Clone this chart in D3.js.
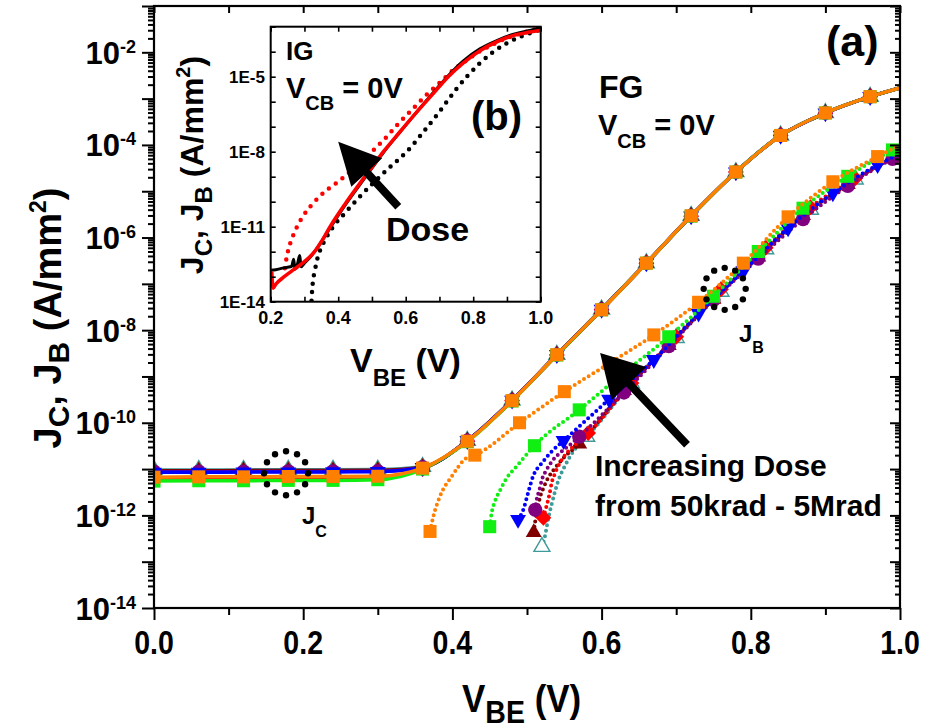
<!DOCTYPE html>
<html>
<head>
<meta charset="utf-8">
<script src="https://cdn.jsdelivr.net/npm/d3@7"></script>
<style>
  body { margin: 0; background: #fff; }
  svg { display: block; }
  text { font-family: "Liberation Sans", Arial, Helvetica, sans-serif; font-weight: bold; fill: #000; }
</style>
</head>
<body>
<svg id="chart" width="925" height="728"></svg>
<script>
// ---------------- main panel (a): FG device, J_C and J_B vs V_BE ----------------
// collector current density, sampled every 60 mV (last point = end of sweep)
const jcVbe = [0, 0.06, 0.12, 0.18, 0.24, 0.30, 0.36, 0.42, 0.48, 0.54, 0.60, 0.66, 0.72, 0.78, 0.84, 0.90, 0.96, 1.00];
const jcTeal   = [9.6e-12, 9.6e-12, 9.6e-12, 9.7e-12, 9.7e-12, 9.8e-12, 1.12e-11, 4.1e-11, 3.05e-10, 2.95e-9, 2.8e-8, 2.8e-7, 2.95e-6, 2.6e-5, 1.6e-4, 4.9e-4, 1.1e-3, 1.7e-3];
const jcMaroon = [9.2e-12, 9.2e-12, 9.3e-12, 9.3e-12, 9.3e-12, 9.4e-12, 1.1e-11, 4.1e-11, 3.05e-10, 2.95e-9, 2.8e-8, 2.8e-7, 2.95e-6, 2.6e-5, 1.6e-4, 4.9e-4, 1.1e-3, 1.7e-3];
const jcRed    = [6.4e-12, 6.4e-12, 6.5e-12, 6.5e-12, 6.6e-12, 6.7e-12, 1.0e-11, 4.0e-11, 3.0e-10, 2.9e-9, 2.75e-8, 2.8e-7, 2.9e-6, 2.6e-5, 1.6e-4, 4.85e-4, 1.1e-3, 1.7e-3];
const jcPurple = [8.8e-12, 8.8e-12, 8.8e-12, 8.9e-12, 8.9e-12, 9.0e-12, 1.1e-11, 4.1e-11, 3.05e-10, 2.95e-9, 2.8e-8, 2.8e-7, 2.95e-6, 2.6e-5, 1.6e-4, 4.9e-4, 1.1e-3, 1.7e-3];
const jcBlue   = [8.5e-12, 8.5e-12, 8.6e-12, 8.6e-12, 8.7e-12, 8.8e-12, 1.08e-11, 4.1e-11, 3.05e-10, 2.95e-9, 2.8e-8, 2.8e-7, 2.9e-6, 2.6e-5, 1.6e-4, 4.85e-4, 1.1e-3, 1.7e-3];
const jcGreen  = [5.5e-12, 5.6e-12, 5.6e-12, 5.7e-12, 5.7e-12, 5.9e-12, 1.0e-11, 3.9e-11, 2.95e-10, 2.9e-9, 2.75e-8, 2.8e-7, 2.9e-6, 2.6e-5, 1.6e-4, 4.9e-4, 1.1e-3, 1.7e-3];
const jcOrange = [6.7e-12, 6.8e-12, 6.8e-12, 6.9e-12, 6.9e-12, 7.0e-12, 1.05e-11, 4.0e-11, 3.0e-10, 2.95e-9, 2.75e-8, 2.8e-7, 2.95e-6, 2.6e-5, 1.6e-4, 4.9e-4, 1.1e-3, 1.7e-3];

// base current density: [V_BE, J_B] points along each dotted trace
const jbTeal   = [[0.52, 2.1e-13], [0.524, 3.5e-13], [0.527, 6.3e-13], [0.53, 1.1e-12], [0.534, 2.0e-12], [0.538, 3.5e-12], [0.543, 6.3e-12], [0.55, 1.1e-11], [0.558, 1.9e-11], [0.568, 3.2e-11], [0.58, 5.0e-11], [0.64, 7.1e-10], [0.70, 6.8e-9], [0.76, 6.8e-8], [0.82, 5.6e-7], [0.88, 4.0e-6], [0.94, 1.8e-5], [1.0, 6.3e-5]];
const jbMaroon = [[0.509, 4.3e-13], [0.511, 7.4e-13], [0.514, 1.32e-12], [0.517, 2.3e-12], [0.522, 3.9e-12], [0.5285, 6.5e-12], [0.5375, 1.05e-11], [0.549, 1.74e-11], [0.57, 3.5e-11], [0.63, 5.0e-10], [0.69, 4.7e-9], [0.75, 4.7e-8], [0.81, 3.8e-7], [0.87, 3.0e-6], [0.93, 1.4e-5], [0.99, 5.2e-5], [1.0, 6.2e-5]];
const jbRed    = [[0.522, 8.9e-13], [0.526, 1.55e-12], [0.53, 2.8e-12], [0.533, 5.0e-12], [0.5375, 8.1e-12], [0.544, 1.35e-11], [0.553, 2.2e-11], [0.564, 3.3e-11], [0.582, 6.0e-11], [0.64, 7.2e-10], [0.70, 7.2e-9], [0.76, 7.6e-8], [0.82, 6.0e-7], [0.88, 4.5e-6], [0.94, 1.9e-5], [1.0, 6.3e-5]];
const jbPurple = [[0.511, 1.32e-12], [0.513, 2.2e-12], [0.5165, 3.5e-12], [0.52, 5.9e-12], [0.526, 9.5e-12], [0.535, 1.58e-11], [0.5465, 2.4e-11], [0.56, 3.6e-11], [0.57, 5.0e-11], [0.63, 4.5e-10], [0.69, 4.5e-9], [0.75, 4.5e-8], [0.81, 3.5e-7], [0.87, 2.5e-6], [0.93, 1.3e-5], [0.99, 5.0e-5], [1.0, 6.0e-5]];
const jbBlue   = [[0.488, 8.1e-13], [0.495, 1.32e-12], [0.502, 3.3e-12], [0.508, 6.9e-12], [0.52, 1.35e-11], [0.533, 2.4e-11], [0.549, 4.1e-11], [0.61, 3.2e-10], [0.67, 2.3e-9], [0.73, 2.3e-8], [0.79, 1.9e-7], [0.85, 1.6e-6], [0.91, 9.1e-6], [0.97, 3.7e-5], [1.0, 6.5e-5]];
const jbGreen  = [[0.45, 5.7e-13], [0.4527, 1.15e-12], [0.457, 2.0e-12], [0.464, 3.5e-12], [0.473, 6.5e-12], [0.484, 1.05e-11], [0.497, 1.86e-11], [0.51, 3.2e-11], [0.57, 1.9e-10], [0.63, 1.2e-9], [0.69, 7.2e-9], [0.75, 5.4e-8], [0.81, 5.0e-7], [0.87, 4.3e-6], [0.93, 2.1e-5], [0.99, 7.8e-5], [1.0, 9.5e-5]];
const jbOrange = [[0.37, 4.5e-13], [0.374, 8.9e-13], [0.383, 2.5e-12], [0.399, 6.9e-12], [0.419, 1.74e-11], [0.43, 2.0e-11], [0.49, 1.0e-10], [0.55, 4.7e-10], [0.61, 1.9e-9], [0.67, 7.9e-9], [0.73, 4.0e-8], [0.79, 2.8e-7], [0.85, 2.8e-6], [0.91, 1.6e-5], [0.97, 5.6e-5], [1.0, 1.0e-4]];

// V_BE values that carry a symbol on each J_B trace
const jbMarkTeal   = [0.52, 0.58, 0.64, 0.70, 0.76, 0.82, 0.88, 0.94];
const jbMarkMaroon = [0.509, 0.57, 0.63, 0.69, 0.75, 0.81, 0.87, 0.93, 0.99];
const jbMarkRed    = [0.522, 0.582, 0.64, 0.70, 0.76, 0.82, 0.88, 0.94];
const jbMarkPurple = [0.511, 0.57, 0.63, 0.69, 0.75, 0.81, 0.87, 0.93, 0.99];
const jbMarkBlue   = [0.488, 0.549, 0.61, 0.67, 0.73, 0.79, 0.85, 0.91, 0.97];
const jbMarkGreen  = [0.45, 0.51, 0.57, 0.63, 0.69, 0.75, 0.81, 0.87, 0.93, 0.99];
const jbMarkOrange = [0.37, 0.43, 0.49, 0.55, 0.61, 0.67, 0.73, 0.79, 0.85, 0.91, 0.97];

// axis ticks
const xTicksMain = [0, 0.2, 0.4, 0.6, 0.8, 1.0];
const yLabelExps = [-14, -12, -10, -8, -6, -4, -2];

// ---------------- inset (b): IG device ----------------
const insetJcPre  = [[0.20, 1.8e-13], [0.215, 1.9e-13], [0.235, 2.2e-13], [0.25, 2.4e-13], [0.262, 2.6e-13], [0.268, 5.0e-13], [0.272, 2.0e-13], [0.28, 3.5e-13], [0.286, 7.1e-13], [0.29, 2.5e-13], [0.30, 3.5e-13], [0.315, 5.6e-13], [0.33, 1.0e-12], [0.35, 2.5e-12], [0.376, 8.9e-12], [0.42, 7.1e-11], [0.46, 4.0e-10], [0.50, 2.2e-9], [0.534, 9.3e-9], [0.58, 5.4e-8], [0.63, 3.5e-7], [0.68, 2.2e-6], [0.726, 1.1e-5], [0.77, 4.2e-5], [0.82, 1.3e-4], [0.87, 2.8e-4], [0.92, 5.0e-4], [0.96, 6.8e-4], [1.0, 8.5e-4]];
const insetJcPost = [[0.203, 1.6e-13], [0.207, 3.5e-14], [0.215, 5.0e-14], [0.24, 1.0e-13], [0.27, 2.0e-13], [0.30, 4.0e-13], [0.33, 1.0e-12], [0.35, 2.5e-12], [0.376, 1.0e-11], [0.42, 7.9e-11], [0.46, 4.5e-10], [0.50, 2.4e-9], [0.534, 1.0e-8], [0.58, 5.6e-8], [0.63, 3.5e-7], [0.68, 2.0e-6], [0.726, 1.0e-5], [0.77, 3.5e-5], [0.82, 1.1e-4], [0.87, 2.5e-4], [0.92, 4.5e-4], [0.96, 5.8e-4], [1.0, 7.0e-4]];
const insetJbPre  = [[0.321, 1.1e-14], [0.323, 3.2e-14], [0.326, 7.9e-14], [0.331, 1.8e-13], [0.337, 4.5e-13], [0.346, 1.1e-12], [0.36, 2.8e-12], [0.385, 1.0e-11], [0.42, 3.5e-11], [0.46, 1.4e-10], [0.50, 5.0e-10], [0.55, 2.2e-9], [0.603, 1.0e-8], [0.65, 5.6e-8], [0.70, 4.0e-7], [0.75, 3.2e-6], [0.781, 1.0e-5], [0.82, 3.5e-5], [0.86, 1.0e-4], [0.90, 2.2e-4], [0.94, 4.0e-4], [0.98, 6.3e-4], [1.0, 7.6e-4]];
const insetJbPost = [[0.242, 2.2e-13], [0.245, 4.0e-13], [0.25, 8.9e-13], [0.258, 2.2e-12], [0.268, 5.0e-12], [0.278, 1.0e-11], [0.30, 3.2e-11], [0.33, 1.0e-10], [0.36, 2.5e-10], [0.40, 6.3e-10], [0.44, 1.8e-9], [0.47, 4.0e-9], [0.50, 1.0e-8], [0.54, 3.5e-8], [0.58, 1.4e-7], [0.62, 5.0e-7], [0.66, 1.8e-6], [0.70, 5.6e-6], [0.74, 1.8e-5], [0.78, 4.5e-5], [0.82, 1.05e-4], [0.86, 2.0e-4], [0.90, 3.5e-4], [0.94, 5.4e-4], [0.98, 7.6e-4], [1.0, 8.9e-4]];
const insetXTicks = [0.2, 0.4, 0.6, 0.8, 1.0];
const insetYLabelExps = [-14, -11, -8, -5];

// ---------------- drawing ----------------
const svg = d3.select("#chart");
svg.append("rect").attr("width", 925).attr("height", 728).attr("fill", "#fff");

const x = d3.scaleLinear().domain([0, 1]).range([154, 900]);
const y = d3.scaleLog().domain([1e-14, 1e-1]).range([608, 6]);

const series = [
  { jc: jcTeal,   jb: jbTeal,   mk: jbMarkTeal,   color: "#3f9a9a", shape: "triUpOpen" },
  { jc: jcMaroon, jb: jbMaroon, mk: jbMarkMaroon, color: "#800000", shape: "triUp" },
  { jc: jcRed,    jb: jbRed,    mk: jbMarkRed,    color: "#ff0000", shape: "diamond" },
  { jc: jcPurple, jb: jbPurple, mk: jbMarkPurple, color: "#800080", shape: "circle" },
  { jc: jcBlue,   jb: jbBlue,   mk: jbMarkBlue,   color: "#0000ff", shape: "triDown" },
  { jc: jcGreen,  jb: jbGreen,  mk: jbMarkGreen,  color: "#11ee11", shape: "square" },
  { jc: jcOrange, jb: jbOrange, mk: jbMarkOrange, color: "#ff8000", shape: "square" }
];

const defs = svg.append("defs");
defs.append("clipPath").attr("id", "plotClip")
  .append("rect").attr("x", 154).attr("y", 6).attr("width", 746).attr("height", 602);

function symbolPath(shape) {
  switch (shape) {
    case "square":  return d3.symbol(d3.symbolSquare, 170)();
    case "circle":  return d3.symbol(d3.symbolCircle, 160)();
    case "diamond": return d3.symbol(d3.symbolSquare, 125)();
    default:        return d3.symbol(d3.symbolTriangle, 110)();
  }
}
function symbolRotation(shape) {
  if (shape === "diamond") return 45;
  if (shape === "triDown") return 180;
  return 0;
}
function drawMarkers(g, pts, s) {
  g.selectAll(null).data(pts).enter().append("path")
    .attr("d", symbolPath(s.shape))
    .attr("transform", d => `translate(${x(d[0])},${y(d[1])}) rotate(${symbolRotation(s.shape)})`)
    .attr("fill", s.shape === "triUpOpen" ? "#fff" : s.color)
    .attr("stroke", s.shape === "triUpOpen" ? s.color : "none")
    .attr("stroke-width", 1.4);
}

const plot = svg.append("g").attr("clip-path", "url(#plotClip)");
const lineMain = d3.line().x(d => x(d[0])).y(d => y(d[1])).curve(d3.curveMonotoneX);

// J_C traces: solid lines with a symbol every 60 mV
series.forEach(s => {
  const pts = jcVbe.map((v, i) => [v, s.jc[i]]);
  const g = plot.append("g");
  g.append("path").datum(pts).attr("d", lineMain)
    .attr("fill", "none").attr("stroke", s.color).attr("stroke-width", 3.5);
  drawMarkers(g, pts.slice(0, pts.length - 1), s);
});

// J_B traces: dotted lines, symbols at selected bias points
series.forEach(s => {
  const g = plot.append("g");
  g.append("path").datum(s.jb).attr("d", lineMain)
    .attr("fill", "none").attr("stroke", s.color).attr("stroke-width", 4)
    .attr("stroke-linecap", "round").attr("stroke-dasharray", "0 5.5");
  const marks = s.jb.filter(p => s.mk.some(v => Math.abs(v - p[0]) < 1e-6));
  drawMarkers(g, marks, s);
});

// ---------------- main axes ----------------
const axes = svg.append("g");
// bottom
const xb = axes.append("g").attr("transform", "translate(0,608)");
xb.call(d3.axisBottom(x).tickValues(xTicksMain).tickSize(12).tickFormat(""));
xb.call(g => g.append("g").call(d3.axisBottom(x).tickValues([0.1, 0.3, 0.5, 0.7, 0.9]).tickSize(7).tickFormat("")));
// top (inward)
const xt = axes.append("g").attr("transform", "translate(0,6)");
xt.call(d3.axisBottom(x).tickValues(d3.range(0, 11).map(i => i / 10)).tickSize(7).tickFormat(""));
// left (outward)
const majorDecades = d3.range(-14, 0).map(e => Math.pow(10, e));
const minorDecades = [];
d3.range(-14, -1).forEach(e => { for (let k = 2; k <= 9; k++) minorDecades.push(k * Math.pow(10, e)); });
const yl = axes.append("g").attr("transform", "translate(154,0)");
yl.call(d3.axisLeft(y).tickValues(majorDecades).tickSize(12).tickFormat(""));
yl.call(g => g.append("g").call(d3.axisLeft(y).tickValues(minorDecades).tickSize(6).tickFormat("")));
// right (inward)
const yr = axes.append("g").attr("transform", "translate(900,0)");
yr.call(d3.axisLeft(y).tickValues(majorDecades).tickSize(10).tickFormat(""));
yr.call(g => g.append("g").call(d3.axisLeft(y).tickValues(minorDecades).tickSize(5).tickFormat("")));
axes.selectAll(".domain").remove();
axes.selectAll(".tick line").attr("stroke", "#000").attr("stroke-width", 2);
axes.append("rect").attr("x", 154).attr("y", 6).attr("width", 746).attr("height", 602)
  .attr("fill", "none").attr("stroke", "#000").attr("stroke-width", 2.2);

// x tick labels (condensed bold)
xTicksMain.forEach(v => {
  axes.append("g").attr("transform", `translate(${x(v)},654) scale(0.84,1)`)
    .append("text").attr("text-anchor", "middle").style("font-size", "34px").text(v.toFixed(1));
});
// y tick labels 10^n
yLabelExps.forEach(e => {
  const t = axes.append("text").attr("x", 136).attr("y", y(Math.pow(10, e)) + 11.5)
    .attr("text-anchor", "end").style("font-size", "31px");
  t.append("tspan").text("10");
  t.append("tspan").attr("dy", -11).style("font-size", "18px").text(String(e));
});

// axis titles
const xTitle = svg.append("g").attr("transform", "translate(462,712) scale(0.92,1)").append("text").style("font-size", "38px");
xTitle.append("tspan").text("V");
xTitle.append("tspan").attr("dy", 11).style("font-size", "31px").text("BE");
xTitle.append("tspan").attr("dy", -11).text(" (V)");

const yTitle = svg.append("g").attr("transform", "translate(61,318) rotate(-90)").append("text")
  .attr("text-anchor", "middle").style("font-size", "38px");
yTitle.append("tspan").text("J");
yTitle.append("tspan").attr("dy", 8).style("font-size", "30px").text("C");
yTitle.append("tspan").attr("dy", -8).text(", J");
yTitle.append("tspan").attr("dy", 8).style("font-size", "30px").text("B");
yTitle.append("tspan").attr("dy", -8).text(" (A/mm");
yTitle.append("tspan").attr("dy", -15).style("font-size", "23px").text("2");
yTitle.append("tspan").attr("dy", 15).text(")");

// ---------------- annotations (main) ----------------
function arrowPoly(x0, y0, x1, y1, shaftW, headL, headW) {
  const dx = x1 - x0, dy = y1 - y0, L = Math.hypot(dx, dy);
  const ux = dx / L, uy = dy / L, nx = -uy, ny = ux;
  const bx = x1 - ux * headL, by = y1 - uy * headL;
  const pts = [
    [x0 + nx * shaftW / 2, y0 + ny * shaftW / 2],
    [bx + nx * shaftW / 2, by + ny * shaftW / 2],
    [bx + nx * headW / 2, by + ny * headW / 2],
    [x1, y1],
    [bx - nx * headW / 2, by - ny * headW / 2],
    [bx - nx * shaftW / 2, by - ny * shaftW / 2],
    [x0 - nx * shaftW / 2, y0 - ny * shaftW / 2]
  ];
  return pts.map(p => p.join(",")).join(" ");
}
function dottedRing(g, cx, cy, r, n) {
  for (let i = 0; i < n; i++) {
    const a = (i / n) * 2 * Math.PI;
    g.append("circle").attr("cx", cx + r * Math.cos(a)).attr("cy", cy + r * Math.sin(a)).attr("r", 3.2).attr("fill", "#000");
  }
}
const ann = svg.append("g");
ann.append("polygon").attr("points", arrowPoly(x(0.7145), y(3.35e-11), x(0.598), y(3.2e-9), 8, 42, 48)).attr("fill", "#000");
dottedRing(ann, x(0.177), y(8.1e-12), 22, 12);
dottedRing(ann, x(0.765), y(7.8e-8), 21, 12);

const jcLab = ann.append("text").attr("x", 302).attr("y", 524).style("font-size", "24px");
jcLab.append("tspan").text("J");
jcLab.append("tspan").attr("dy", 13).style("font-size", "16px").text("C");
const jbLab = ann.append("text").attr("x", 739).attr("y", 342).style("font-size", "24px");
jbLab.append("tspan").text("J");
jbLab.append("tspan").attr("dy", 11).style("font-size", "16px").text("B");

ann.append("text").attr("x", 595).attr("y", 476).style("font-size", "30px").text("Increasing Dose");
ann.append("text").attr("x", 595).attr("y", 516).style("font-size", "30px").text("from 50krad - 5Mrad");
ann.append("text").attr("x", 826).attr("y", 56).style("font-size", "43px").text("(a)");
ann.append("text").attr("x", 599).attr("y", 98).style("font-size", "32px").text("FG");
const vcbMain = ann.append("text").attr("x", 598).attr("y", 135).style("font-size", "29px");
vcbMain.append("tspan").text("V");
vcbMain.append("tspan").attr("dy", 13).style("font-size", "20px").text("CB");
vcbMain.append("tspan").attr("dy", -13).text(" = 0V");

// ---------------- inset (b) ----------------
const xi = d3.scaleLinear().domain([0.2, 1.0]).range([270.7, 540.7]);
const yi = d3.scaleLog().domain([1e-14, 1e-3]).range([301.7, 26.7]);
const inset = svg.append("g");
inset.append("rect").attr("x", 270.7).attr("y", 26.7).attr("width", 270).attr("height", 275).attr("fill", "#fff");
defs.append("clipPath").attr("id", "insetClip")
  .append("rect").attr("x", 270.7).attr("y", 26.7).attr("width", 270).attr("height", 275);

const lineInset = d3.line().x(d => xi(d[0])).y(d => yi(d[1])).curve(d3.curveMonotoneX);
const ic = inset.append("g").attr("clip-path", "url(#insetClip)");
ic.append("path").datum(insetJbPre).attr("d", lineInset).attr("fill", "none").attr("stroke", "#000")
  .attr("stroke-width", 4.5).attr("stroke-linecap", "round").attr("stroke-dasharray", "0 8.5");
ic.append("path").datum(insetJbPost).attr("d", lineInset).attr("fill", "none").attr("stroke", "#ff0000")
  .attr("stroke-width", 4.5).attr("stroke-linecap", "round").attr("stroke-dasharray", "0 8.5");
ic.append("path").datum(insetJcPre).attr("d", lineInset).attr("fill", "none").attr("stroke", "#000").attr("stroke-width", 3);
ic.append("path").datum(insetJcPost).attr("d", lineInset).attr("fill", "none").attr("stroke", "#ff0000").attr("stroke-width", 3.6);

const iax = inset.append("g");
const insetDecades = d3.range(-14, -2).map(e => Math.pow(10, e));
iax.append("g").attr("transform", "translate(270.7,0)").call(d3.axisRight(yi).tickValues(insetDecades).tickSize(5).tickFormat(""));
iax.append("g").attr("transform", "translate(540.7,0)").call(d3.axisLeft(yi).tickValues(insetDecades).tickSize(5).tickFormat(""));
const insetTenths = d3.range(2, 11).map(i => i / 10);
iax.append("g").attr("transform", "translate(0,301.7)").call(d3.axisTop(xi).tickValues(insetTenths).tickSize(5).tickFormat(""));
iax.append("g").attr("transform", "translate(0,26.7)").call(d3.axisBottom(xi).tickValues(insetTenths).tickSize(5).tickFormat(""));
iax.selectAll(".domain").remove();
iax.selectAll(".tick line").attr("stroke", "#000").attr("stroke-width", 1.6);
iax.append("rect").attr("x", 270.7).attr("y", 26.7).attr("width", 270).attr("height", 275)
  .attr("fill", "none").attr("stroke", "#000").attr("stroke-width", 2);

insetXTicks.forEach(v => {
  iax.append("text").attr("x", xi(v)).attr("y", 324).attr("text-anchor", "middle").style("font-size", "18px").text(v.toFixed(1));
});
insetYLabelExps.forEach(e => {
  iax.append("text").attr("x", 265).attr("y", yi(Math.pow(10, e)) + 6).attr("text-anchor", "end")
    .style("font-size", "17px").text("1E" + e);
});

const ixt = inset.append("text").attr("x", 350).attr("y", 372).style("font-size", "34px");
ixt.append("tspan").text("V");
ixt.append("tspan").attr("dy", 14).style("font-size", "24px").text("BE");
ixt.append("tspan").attr("dy", -14).text(" (V)");

const iyt = inset.append("g").attr("transform", "translate(203,165) rotate(-90)").append("text")
  .attr("text-anchor", "middle").style("font-size", "32px");
iyt.append("tspan").text("J");
iyt.append("tspan").attr("dy", 9).style("font-size", "24px").text("C");
iyt.append("tspan").attr("dy", -9).text(", J");
iyt.append("tspan").attr("dy", 9).style("font-size", "24px").text("B");
iyt.append("tspan").attr("dy", -9).text(" (A/mm");
iyt.append("tspan").attr("dy", -13).style("font-size", "20px").text("2");
iyt.append("tspan").attr("dy", 13).text(")");

inset.append("text").attr("x", 286).attr("y", 60).style("font-size", "26px").text("IG");
const vcbIn = inset.append("text").attr("x", 286).attr("y", 98).style("font-size", "29px");
vcbIn.append("tspan").text("V");
vcbIn.append("tspan").attr("dy", 12).style("font-size", "20px").text("CB");
vcbIn.append("tspan").attr("dy", -12).text(" = 0V");
inset.append("text").attr("x", 471).attr("y", 130).style("font-size", "40px").text("(b)");
inset.append("text").attr("x", 386).attr("y", 241).style("font-size", "34px").text("Dose");
inset.append("polygon").attr("points", arrowPoly(xi(0.578), yi(6.3e-11), xi(0.40), yi(2.5e-8), 8, 42, 42)).attr("fill", "#000");
</script>
</body>
</html>
